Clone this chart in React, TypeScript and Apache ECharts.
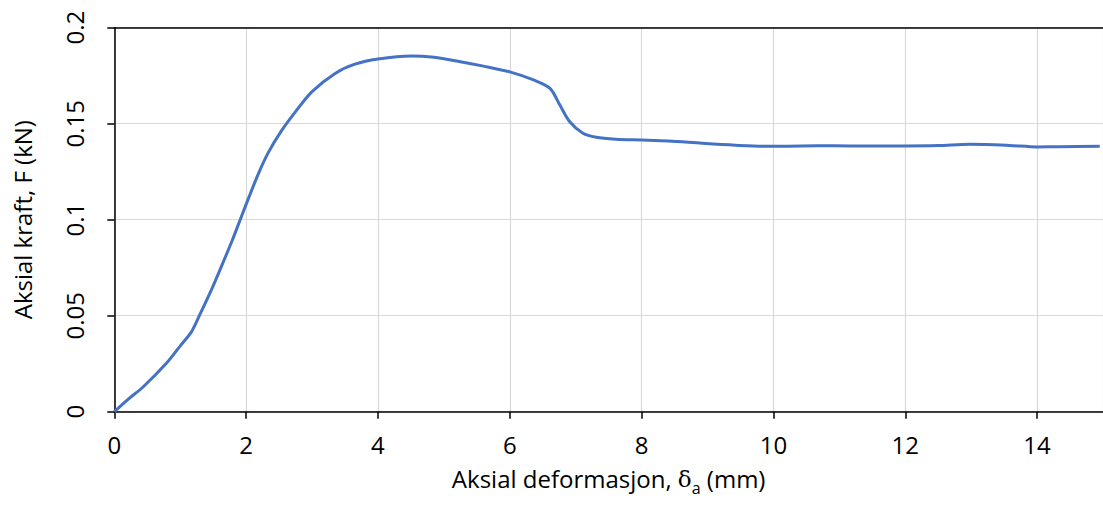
import React, { useEffect, useRef } from "react";
import * as echarts from "echarts";

const deformation = [0, 0.2, 0.44, 0.79, 1.01, 1.17, 1.29, 1.49, 1.64, 1.79, 1.91, 2.04, 2.19, 2.34, 2.54, 2.75, 3.0, 3.35, 3.65, 4.0, 4.5, 4.85, 5.25, 5.6, 6.0, 6.36, 6.61, 6.76, 6.91, 7.11, 7.31, 7.61, 8.0, 8.41, 8.92, 9.42, 9.92, 10.42, 10.92, 11.43, 12.0, 12.5, 12.98, 13.58, 14.0, 14.34, 14.95];
const force = [0, 0.0062, 0.013, 0.0252, 0.0347, 0.0416, 0.05, 0.0648, 0.0769, 0.0893, 0.1, 0.1115, 0.1243, 0.1352, 0.1465, 0.1563, 0.1667, 0.1762, 0.181, 0.1837, 0.1853, 0.1846, 0.1823, 0.180, 0.177, 0.1728, 0.1684, 0.1597, 0.151, 0.145, 0.1429, 0.1419, 0.1415, 0.141, 0.1398, 0.1388, 0.1382, 0.1384, 0.1385, 0.1384, 0.1384, 0.1386, 0.1393, 0.1387, 0.1379, 0.138, 0.1383];

const xTitle = "{n|Aksial deformasjon, }{d|δ}{s|a}{n| (mm)}";
const yTitle = "Aksial kraft, F (kN)";

const FONT = "Open Sans";

export default function App() {
  const ref = useRef<HTMLDivElement>(null);
  useEffect(() => {
    if (!ref.current) return;
    const chart = echarts.init(ref.current, undefined, { renderer: "svg" });
    const data = deformation.map((x, i) => [x, force[i]]);
    chart.setOption({
      animation: false,
      grid: { left: 114.3, top: 27.7, width: 996.5, height: 384 },
      xAxis: [
        {
          type: "value",
          min: 0,
          max: 15,
          interval: 2,
          name: xTitle,
          nameLocation: "middle",
          nameGap: 50,
          nameTextStyle: {
            rich: {
              n: { fontFamily: FONT, fontSize: 24, color: "#000", lineHeight: 34, verticalAlign: "middle" },
              d: { fontFamily: "DejaVu Serif", fontSize: 23, color: "#000", lineHeight: 34, verticalAlign: "middle" },
              s: { fontFamily: FONT, fontSize: 16, color: "#000", lineHeight: 34, verticalAlign: "bottom" },
            },
          },
          axisLine: { show: true, lineStyle: { color: "#000", width: 1.5 } },
          axisTick: { show: true, inside: false, length: 7, lineStyle: { color: "#000", width: 1.5 } },
          axisLabel: { showMaxLabel: false, margin: 21, fontFamily: FONT, fontSize: 24, color: "#000" },
          splitLine: { show: true, lineStyle: { color: "#d9d9d9", width: 1.2 } },
        },
        {
          type: "value",
          position: "top",
          min: 0,
          max: 15,
          interval: 2,
          axisLine: { show: true, onZero: false, lineStyle: { color: "#000", width: 1.5 } },
          axisTick: { show: false },
          axisLabel: { show: false },
          splitLine: { show: false },
        },
      ],
      yAxis: {
        type: "value",
        min: 0,
        max: 0.2,
        interval: 0.05,
        name: yTitle,
        nameLocation: "middle",
        nameGap: 80,
        nameTextStyle: { fontFamily: FONT, fontSize: 24, color: "#000" },
        axisLine: { show: true, lineStyle: { color: "#000", width: 1.5 } },
        axisTick: { show: true, inside: false, length: 7, lineStyle: { color: "#000", width: 1.5 } },
        axisLabel: { rotate: 90, margin: 28, fontFamily: FONT, fontSize: 24, color: "#000" },
        splitLine: { show: true, lineStyle: { color: "#d9d9d9", width: 1.2 } },
      },
      series: [
        {
          type: "line",
          data,
          smooth: 0.3,
          showSymbol: false,
          symbol: "none",
          clip: true,
          lineStyle: { color: "#4472C4", width: 3 },
        },
      ],
    });
    return () => chart.dispose();
  }, []);
  return (
    <div
      ref={ref}
      style={{ position: "fixed", left: 0, top: 0, width: 1103, height: 506, background: "#fff" }}
    />
  );
}
